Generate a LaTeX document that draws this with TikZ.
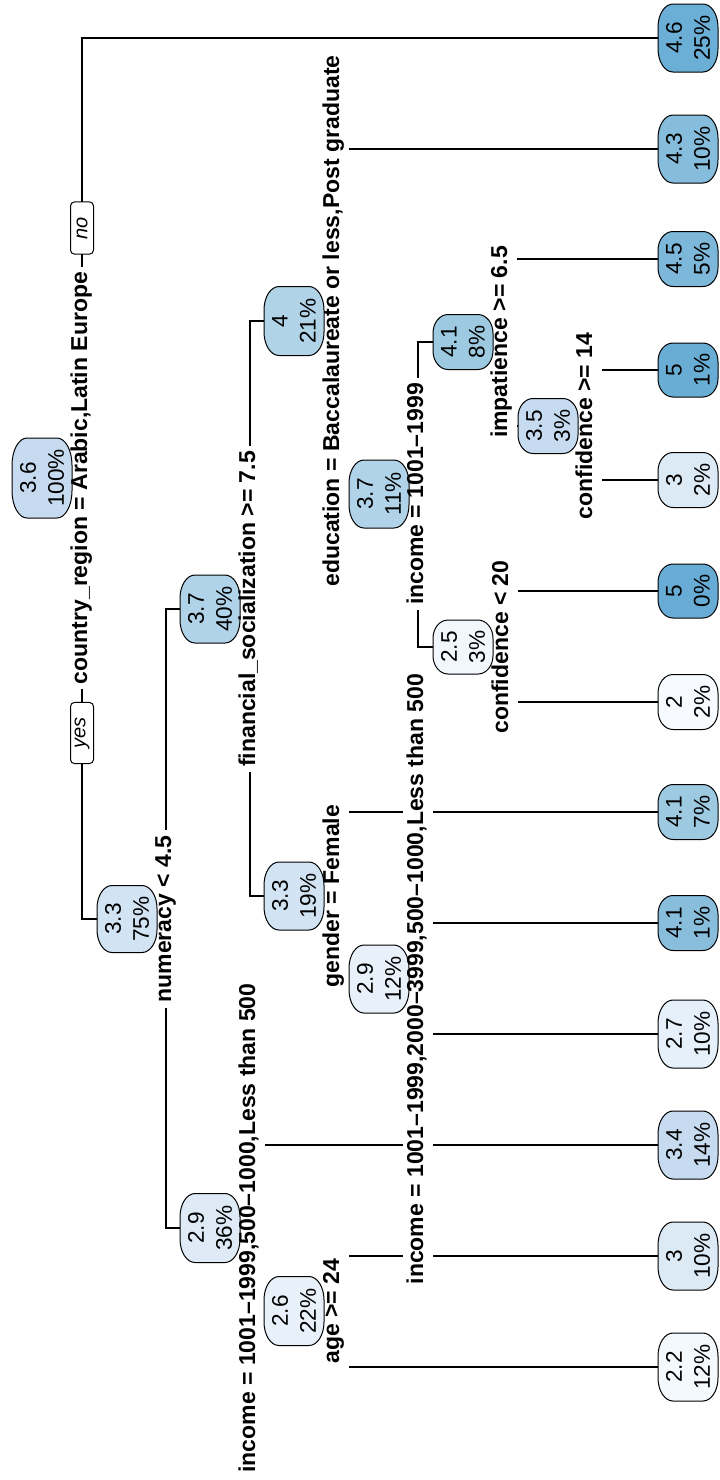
\documentclass[tikz,border=0pt]{standalone}
\usepackage{fontspec}
\setmainfont{Liberation Sans}
\pgfdeclarelayer{edges}
\pgfdeclarelayer{masks}
\pgfdeclarelayer{shapes}
\pgfsetlayers{edges,masks,shapes,main}
\definecolor{c20}{HTML}{F7FBFF}
\definecolor{c22}{HTML}{F4F9FE}
\definecolor{c25}{HTML}{F1F7FD}
\definecolor{c26}{HTML}{E8F1FA}
\definecolor{c27}{HTML}{E6F0FA}
\definecolor{c29}{HTML}{DEEBF7}
\definecolor{c29b}{HTML}{E8F1FA}
\definecolor{c30}{HTML}{DCEAF6}
\definecolor{c33}{HTML}{D2E3F3}
\definecolor{c34}{HTML}{C6DBEF}
\definecolor{c35}{HTML}{C6DBEF}
\definecolor{c36}{HTML}{C6DBEF}
\definecolor{c37}{HTML}{B1D3E9}
\definecolor{c40}{HTML}{B0D3E8}
\definecolor{c41}{HTML}{9DCAE1}
\definecolor{c41b}{HTML}{88BEDC}
\definecolor{c43}{HTML}{86BDDC}
\definecolor{c45}{HTML}{7DB8DA}
\definecolor{c46}{HTML}{6BAED6}
\definecolor{c50a}{HTML}{69ADD5}
\definecolor{c50b}{HTML}{68ACD5}
\newcommand\trNodeFont{\fontsize{11.3}{14}\selectfont}
\newcommand\trLblFont{\fontsize{11.5}{13}\selectfont\bfseries}
\newcommand\trYNFont{\fontsize{10}{12}\selectfont\itshape}
\tikzset{
  ntext/.style={rotate=90, align=center, inner sep=0pt, font=\trNodeFont, minimum height=30pt},
  nbox/.style={draw=black, line width=0.5pt},
  lbl/.style={rotate=90, font=\trLblFont, text height=0.75em, text depth=0.25em, inner xsep=2.5pt, inner ysep=2.5pt},
  yn/.style={rotate=90, font=\trYNFont, draw=black, fill=white, line width=0.5pt, rounded corners=2pt, inner xsep=7.5pt, inner ysep=0pt, minimum height=11.5pt},
  edge/.style={draw=black, line width=0.6pt}
}
\newcommand\tnode[7]{%
  \node[ntext, minimum width=#4pt] (#1) at (#2,#3) {#6\\#7};
  \begin{pgfonlayer}{shapes}
    \pgfmathsetmacro\tnL{#2-30}\pgfmathsetmacro\tnR{#2+30}%
    \pgfmathsetmacro\tnT{#3-#4}\pgfmathsetmacro\tnB{#3+#4}%
    \pgfmathsetmacro\tnry{0.68*#4}\pgfmathsetmacro\tnky{0.448*\tnry}%
    \filldraw[nbox, fill=#5] ({\tnL+15},\tnT) -- ({\tnR-15},\tnT)
      .. controls ({\tnR-6.7},\tnT) and (\tnR,{\tnT+\tnky}) .. (\tnR,{\tnT+\tnry})
      -- (\tnR,{\tnB-\tnry})
      .. controls (\tnR,{\tnB-\tnky}) and ({\tnR-6.7},\tnB) .. ({\tnR-15},\tnB)
      -- ({\tnL+15},\tnB)
      .. controls ({\tnL+6.7},\tnB) and (\tnL,{\tnB-\tnky}) .. (\tnL,{\tnB-\tnry})
      -- (\tnL,{\tnT+\tnry})
      .. controls (\tnL,{\tnT+\tnky}) and ({\tnL+6.7},\tnT) .. ({\tnL+15},\tnT) -- cycle;
  \end{pgfonlayer}%
}
\begin{document}
\begin{tikzpicture}[x=0.5pt, y=-0.5pt]
\useasboundingbox (0,0) rectangle (719,1480);
\begin{pgfonlayer}{edges}
\fill[white] (0,0) rectangle (719,1480);
\end{pgfonlayer}
% leaves
\tnode{L1}{688}{38}{34}{c46}{4.6}{25\%}
\tnode{L2}{688}{149}{34}{c43}{4.3}{10\%}
\tnode{L3}{688}{259}{27.5}{c45}{4.5}{5\%}
\tnode{L4}{688}{370}{27}{c50a}{5}{1\%}
\tnode{L5}{688}{480}{27.5}{c30}{3}{2\%}
\tnode{L6}{688}{591}{27}{c50b}{5}{0\%}
\tnode{L7}{688}{702}{27.5}{c20}{2}{2\%}
\tnode{L8}{688}{812}{27.5}{c41}{4.1}{7\%}
\tnode{L9}{688}{923}{27.5}{c41b}{4.1}{1\%}
\tnode{L10}{688}{1034}{34}{c27}{2.7}{10\%}
\tnode{L11}{688}{1145}{34}{c34}{3.4}{14\%}
\tnode{L12}{688}{1256}{34}{c30}{3}{10\%}
\tnode{L13}{688}{1367}{34}{c22}{2.2}{12\%}
% internal nodes
\tnode{n0}{42}{478}{40}{c36}{3.6}{100\%}
\tnode{n75}{127}{919}{33.5}{c33}{3.3}{75\%}
\tnode{n40}{210}{609}{34}{c37}{3.7}{40\%}
\tnode{n36}{210}{1228}{34.5}{c29}{2.9}{36\%}
\tnode{n21}{294}{321}{34.5}{c40}{4}{21\%}
\tnode{n19}{294}{896}{34}{c33}{3.3}{19\%}
\tnode{n22}{294}{1311}{34.5}{c26}{2.6}{22\%}
\tnode{n11}{379}{494}{34}{c37}{3.7}{11\%}
\tnode{n12}{379}{979}{34}{c29b}{2.9}{12\%}
\tnode{n8}{463}{342}{27.5}{c41}{4.1}{8\%}
\tnode{n3a}{463}{647}{27}{c25}{2.5}{3\%}
\tnode{n3b}{548}{426}{27.5}{c35}{3.5}{3\%}
% split labels
\node[lbl] (lb0) at (82,478) {country\_region = Arabic,Latin Europe};
\node[lbl] (lb75) at (166,919) {numeracy < 4.5};
\node[lbl] (lb40) at (250,609) {financial\_socialization >= 7.5};
\node[lbl] (lb36) at (250,1228) {income = 1001–1999,500–1000,Less than 500};
\node[lbl] (lb21) at (334,321) {education = Baccalaureate or less,Post graduate};
\node[lbl] (lb19) at (334,896) {gender = Female};
\node[lbl] (lb22) at (334,1311) {age >= 24};
\node[lbl] (lb11) at (418,494) {income = 1001–1999};
\node[lbl] (lb12) at (418,979) {income = 1001–1999,2000–3999,500–1000,Less than 500};
\node[lbl] (lb8) at (502,342) {impatience >= 6.5};
\node[lbl] (lb3a) at (503,647) {confidence < 20};
\node[lbl] (lb3b) at (587,426) {confidence >= 14};
% yes / no
\node[yn] (yesb) at (82,733) {yes};
\node[yn] (nob) at (82,228) {no};
\begin{pgfonlayer}{masks}
\foreach \n in {lb0,lb75,lb40,lb36,lb21,lb19,lb22,lb11,lb12,lb8,lb3a,lb3b}
  \fill[white] (\n.south west) rectangle (\n.north east);
\end{pgfonlayer}
\begin{pgfonlayer}{edges}
\draw[edge] (L1.north) -| (lb0.center) |- (n75.north);
\draw[edge] (n40.north) -| (lb75.center) |- (n36.north);
\draw[edge] (n21.north) -| (lb40.center) |- (n19.north);
\draw[edge] (L2.north) -| (lb21.center) |- (n11.north);
\draw[edge] (n8.north) -| (lb11.center) |- (n3a.north);
\draw[edge] (L3.north) -| (lb8.center) |- (n3b.north);
\draw[edge] (L4.north) -| (lb3b.center) |- (L5.north);
\draw[edge] (L6.north) -| (lb3a.center) |- (L7.north);
\draw[edge] (L8.north) -| (lb19.center) |- (n12.north);
\draw[edge] (L9.north) -| (lb12.center) |- (L10.north);
\draw[edge] (L11.north) -| (lb36.center) |- (n22.north);
\draw[edge] (L12.north) -| (lb22.center) |- (L13.north);
\end{pgfonlayer}
\end{tikzpicture}
\end{document}
